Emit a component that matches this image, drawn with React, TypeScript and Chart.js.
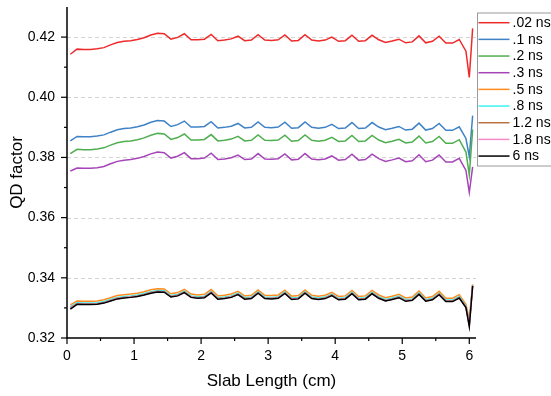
import React, { useEffect, useRef } from 'react';
import { Chart, registerables } from 'chart.js';

Chart.register(...registerables);

const FONT = '"Liberation Sans", Arial, sans-serif';

const slabX = [
  0.05, 0.15, 0.25, 0.35, 0.45, 0.55, 0.65, 0.75, 0.85, 0.95,
  1.05, 1.15, 1.25, 1.35, 1.45, 1.55, 1.65, 1.75, 1.85, 1.95,
  2.05, 2.15, 2.25, 2.35, 2.45, 2.55, 2.65, 2.75, 2.85, 2.95,
  3.05, 3.15, 3.25, 3.35, 3.45, 3.55, 3.65, 3.75, 3.85, 3.95,
  4.05, 4.15, 4.25, 4.35, 4.45, 4.55, 4.65, 4.75, 4.85, 4.95,
  5.05, 5.15, 5.25, 5.35, 5.45, 5.55, 5.65, 5.75, 5.85, 5.95,
  6.0, 6.05,
];

const seriesLabels = ['.02 ns', '.1 ns', '.2 ns', '.3 ns', '.5 ns', '.8 ns', '1.2 ns', '1.8 ns', '6 ns'];
const seriesColors = ['#ee2a2a', '#3f82c6', '#4fae4f', '#a545b8', '#ff8a1e', '#3ff2f2', '#b8703f', '#f58cc8', '#000000'];

const qd002 = [0.4143,0.4160,0.4159,0.4159,0.4161,0.4165,0.4174,0.4182,0.4186,0.4188,0.4192,0.4198,0.4207,0.4213,0.4211,0.4193,0.4199,0.4211,0.4191,0.4191,0.4193,0.4209,0.4188,0.4190,0.4194,0.4203,0.4188,0.4190,0.4208,0.4190,0.4189,0.4191,0.4207,0.4187,0.4189,0.4208,0.4190,0.4187,0.4190,0.4200,0.4186,0.4188,0.4206,0.4186,0.4188,0.4206,0.4191,0.4182,0.4187,0.4193,0.4181,0.4184,0.4204,0.4181,0.4186,0.4203,0.4180,0.4180,0.4192,0.4153,0.4066,0.4229];
const qd01 = [0.3855,0.3870,0.3869,0.3869,0.3871,0.3875,0.3884,0.3892,0.3896,0.3898,0.3902,0.3908,0.3917,0.3923,0.3921,0.3903,0.3909,0.3921,0.3901,0.3901,0.3903,0.3919,0.3898,0.3900,0.3904,0.3913,0.3898,0.3900,0.3918,0.3900,0.3899,0.3901,0.3917,0.3897,0.3899,0.3918,0.3900,0.3897,0.3900,0.3910,0.3896,0.3898,0.3916,0.3896,0.3898,0.3916,0.3901,0.3892,0.3897,0.3903,0.3891,0.3894,0.3914,0.3891,0.3896,0.3913,0.3890,0.3890,0.3902,0.3863,0.3803,0.3939];
const qd02 = [0.3813,0.3827,0.3826,0.3826,0.3828,0.3832,0.3841,0.3849,0.3853,0.3855,0.3859,0.3865,0.3874,0.3880,0.3878,0.3860,0.3866,0.3878,0.3858,0.3858,0.3860,0.3876,0.3855,0.3857,0.3861,0.3870,0.3855,0.3857,0.3875,0.3857,0.3856,0.3858,0.3874,0.3854,0.3856,0.3875,0.3857,0.3854,0.3857,0.3867,0.3853,0.3855,0.3873,0.3853,0.3855,0.3873,0.3858,0.3849,0.3854,0.3860,0.3848,0.3851,0.3871,0.3848,0.3853,0.3870,0.3847,0.3847,0.3859,0.3818,0.3742,0.3893];
const qd03 = [0.3755,0.3765,0.3764,0.3764,0.3766,0.3770,0.3779,0.3787,0.3791,0.3793,0.3797,0.3803,0.3812,0.3818,0.3816,0.3798,0.3804,0.3816,0.3796,0.3796,0.3798,0.3814,0.3793,0.3795,0.3799,0.3808,0.3793,0.3795,0.3813,0.3795,0.3794,0.3796,0.3812,0.3792,0.3794,0.3813,0.3795,0.3792,0.3795,0.3805,0.3791,0.3793,0.3811,0.3791,0.3793,0.3811,0.3796,0.3787,0.3792,0.3798,0.3786,0.3789,0.3809,0.3786,0.3791,0.3808,0.3785,0.3785,0.3797,0.3757,0.3684,0.3769];
const qd05 = [0.3310,0.3323,0.3322,0.3322,0.3323,0.3327,0.3334,0.3341,0.3344,0.3346,0.3349,0.3354,0.3360,0.3364,0.3363,0.3347,0.3351,0.3362,0.3346,0.3343,0.3345,0.3361,0.3340,0.3342,0.3346,0.3355,0.3340,0.3342,0.3360,0.3342,0.3341,0.3343,0.3359,0.3339,0.3341,0.3360,0.3342,0.3339,0.3342,0.3352,0.3338,0.3340,0.3358,0.3338,0.3340,0.3358,0.3343,0.3334,0.3339,0.3345,0.3333,0.3336,0.3356,0.3333,0.3338,0.3355,0.3332,0.3332,0.3344,0.3312,0.3262,0.3378];
const qd08 = [0.3304,0.3317,0.3316,0.3316,0.3317,0.3321,0.3328,0.3335,0.3338,0.3340,0.3343,0.3348,0.3354,0.3358,0.3357,0.3341,0.3345,0.3356,0.3340,0.3337,0.3339,0.3355,0.3334,0.3336,0.3340,0.3349,0.3334,0.3336,0.3354,0.3336,0.3335,0.3337,0.3353,0.3333,0.3335,0.3354,0.3336,0.3333,0.3336,0.3346,0.3332,0.3334,0.3352,0.3332,0.3334,0.3352,0.3337,0.3328,0.3333,0.3339,0.3327,0.3330,0.3350,0.3327,0.3332,0.3349,0.3326,0.3326,0.3338,0.3306,0.3250,0.3376];
const qd12 = [0.3301,0.3314,0.3313,0.3313,0.3314,0.3318,0.3325,0.3332,0.3335,0.3337,0.3340,0.3345,0.3351,0.3355,0.3354,0.3338,0.3342,0.3353,0.3337,0.3334,0.3336,0.3352,0.3331,0.3333,0.3337,0.3346,0.3331,0.3333,0.3351,0.3333,0.3332,0.3334,0.3350,0.3330,0.3332,0.3351,0.3333,0.3330,0.3333,0.3343,0.3329,0.3331,0.3349,0.3329,0.3331,0.3349,0.3334,0.3325,0.3330,0.3336,0.3324,0.3327,0.3347,0.3324,0.3329,0.3346,0.3323,0.3323,0.3335,0.3303,0.3244,0.3375];
const qd18 = [0.3300,0.3313,0.3312,0.3312,0.3313,0.3317,0.3324,0.3331,0.3334,0.3336,0.3339,0.3344,0.3350,0.3354,0.3353,0.3337,0.3341,0.3352,0.3336,0.3333,0.3335,0.3351,0.3330,0.3332,0.3336,0.3345,0.3330,0.3332,0.3350,0.3332,0.3331,0.3333,0.3349,0.3329,0.3331,0.3350,0.3332,0.3329,0.3332,0.3342,0.3328,0.3330,0.3348,0.3328,0.3330,0.3348,0.3333,0.3324,0.3329,0.3335,0.3323,0.3326,0.3346,0.3323,0.3328,0.3345,0.3322,0.3322,0.3334,0.3302,0.3241,0.3374];
const qd6 = [0.3296,0.3312,0.3311,0.3311,0.3312,0.3316,0.3323,0.3330,0.3333,0.3335,0.3338,0.3343,0.3349,0.3353,0.3352,0.3336,0.3340,0.3351,0.3335,0.3332,0.3334,0.3350,0.3329,0.3331,0.3335,0.3344,0.3329,0.3331,0.3349,0.3331,0.3330,0.3332,0.3348,0.3328,0.3330,0.3349,0.3331,0.3328,0.3331,0.3341,0.3327,0.3329,0.3347,0.3327,0.3329,0.3347,0.3332,0.3323,0.3328,0.3334,0.3322,0.3325,0.3345,0.3322,0.3327,0.3344,0.3321,0.3321,0.3333,0.3301,0.3238,0.3373];

const seriesValues = [qd002, qd01, qd02, qd03, qd05, qd08, qd12, qd18, qd6];

const xMajorTicks = [0, 1, 2, 3, 4, 5, 6];
const xMinorTicks = [0.5, 1.5, 2.5, 3.5, 4.5, 5.5];
const yMajorTicks = [0.32, 0.34, 0.36, 0.38, 0.40, 0.42];
const yMinorTicks = [0.33, 0.35, 0.37, 0.39, 0.41];
const yGridTicks = [0.34, 0.36, 0.38, 0.40, 0.42];

const axesPlugin = {
  id: 'originAxes',
  beforeDatasetsDraw(chart: any) {
    const { ctx, chartArea, scales } = chart;
    const y = scales.y;
    ctx.save();
    ctx.strokeStyle = '#d4d4d4';
    ctx.lineWidth = 1;
    ctx.setLineDash([4, 3]);
    yGridTicks.forEach((v) => {
      const py = Math.round(y.getPixelForValue(v)) + 0.5;
      ctx.beginPath();
      ctx.moveTo(chartArea.left, py);
      ctx.lineTo(chartArea.right, py);
      ctx.stroke();
    });
    ctx.restore();
  },
  afterDatasetsDraw(chart: any) {
    const { ctx, chartArea, scales } = chart;
    const x = scales.x;
    const y = scales.y;
    const L = chartArea.left;
    const B = chartArea.bottom;
    ctx.save();
    ctx.strokeStyle = '#000';
    ctx.lineWidth = 1.5;
    ctx.beginPath();
    ctx.moveTo(L, chartArea.top);
    ctx.lineTo(L, B);
    ctx.lineTo(chartArea.right, B);
    ctx.stroke();
    ctx.lineWidth = 1.2;
    const tick = (x1: number, y1: number, x2: number, y2: number) => {
      ctx.beginPath();
      ctx.moveTo(x1, y1);
      ctx.lineTo(x2, y2);
      ctx.stroke();
    };
    yMajorTicks.forEach((v) => { const py = y.getPixelForValue(v); tick(L - 6, py, L, py); });
    yMinorTicks.forEach((v) => { const py = y.getPixelForValue(v); tick(L - 3, py, L, py); });
    xMajorTicks.forEach((v) => { const px = x.getPixelForValue(v); tick(px, B, px, B + 6); });
    xMinorTicks.forEach((v) => { const px = x.getPixelForValue(v); tick(px, B, px, B + 3); });
    ctx.restore();
  },
};

const legendPlugin = {
  id: 'boxLegend',
  afterDraw(chart: any) {
    const { ctx } = chart;
    const left = 477;
    const top = 12.5;
    const rowH = 16.67;
    const n = chart.data.datasets.length;
    ctx.save();
    ctx.fillStyle = '#fff';
    ctx.fillRect(left, top, 90, rowH * n + 3.5);
    ctx.strokeStyle = '#9a9a9a';
    ctx.lineWidth = 1;
    ctx.strokeRect(left + 0.5, top + 0.5, 90, rowH * n + 3);
    ctx.font = '14px ' + FONT;
    ctx.textBaseline = 'middle';
    ctx.textAlign = 'left';
    chart.data.datasets.forEach((ds: any, i: number) => {
      const cy = top + 10.2 + i * rowH;
      ctx.strokeStyle = ds.borderColor;
      ctx.lineWidth = 1.5;
      ctx.beginPath();
      ctx.moveTo(478.5, cy);
      ctx.lineTo(509.5, cy);
      ctx.stroke();
      ctx.fillStyle = '#000';
      ctx.fillText(ds.label, 512.5, cy + 0.5);
    });
    ctx.restore();
  },
};

export default function App() {
  const canvasRef = useRef<HTMLCanvasElement | null>(null);

  useEffect(() => {
    const canvas = canvasRef.current;
    if (!canvas) return;
    const datasets = seriesLabels.map((label, i) => ({
      label,
      data: slabX.map((xv, j) => ({ x: xv, y: seriesValues[i][j] })),
      borderColor: seriesColors[i],
      backgroundColor: seriesColors[i],
      borderWidth: 1.5,
      pointRadius: 0,
      tension: 0,
      fill: false,
      order: seriesLabels.length - i,
    }));
    const chart = new Chart(canvas, {
      type: 'line',
      data: { datasets },
      plugins: [axesPlugin, legendPlugin],
      options: {
        responsive: false,
        animation: false,
        devicePixelRatio: 1,
        layout: { padding: { left: 0, right: 75, top: 7, bottom: 0 } },
        plugins: { legend: { display: false }, tooltip: { enabled: false } },
        scales: {
          x: {
            type: 'linear',
            min: 0,
            max: 6.1,
            grid: { display: false, drawTicks: false },
            border: { display: false },
            afterBuildTicks: (scale: any) => { scale.ticks = xMajorTicks.map((v) => ({ value: v })); },
            afterFit: (scale: any) => { scale.height = 58; scale.paddingLeft = 0; scale.paddingRight = 0; },
            ticks: {
              padding: 10,
              color: '#000',
              font: { family: FONT, size: 14 },
              maxRotation: 0,
              autoSkip: false,
              callback: (v: any) => String(v),
            },
            title: {
              display: true,
              text: 'Slab Length (cm)',
              color: '#000',
              font: { family: FONT, size: 17 },
              padding: { top: 0, bottom: 4 },
            },
          },
          y: {
            type: 'linear',
            min: 0.32,
            max: 0.43,
            grid: { display: false, drawTicks: false },
            border: { display: false },
            afterBuildTicks: (scale: any) => { scale.ticks = yMajorTicks.map((v) => ({ value: v })); },
            afterFit: (scale: any) => { scale.width = 67; scale.paddingTop = 0; scale.paddingBottom = 0; },
            ticks: {
              padding: 12,
              color: '#000',
              font: { family: FONT, size: 14 },
              autoSkip: false,
              callback: (v: any) => Number(v).toFixed(2),
            },
            title: {
              display: true,
              text: 'QD factor',
              color: '#000',
              font: { family: FONT, size: 17 },
              padding: { top: 7, bottom: 0 },
            },
          },
        },
      } as any,
    });
    return () => chart.destroy();
  }, []);

  return (
    <div style={{ position: 'absolute', left: 0, top: 0, width: 551, height: 396, background: '#fff' }}>
      <canvas ref={canvasRef} width={551} height={396} style={{ display: 'block' }} />
    </div>
  );
}
